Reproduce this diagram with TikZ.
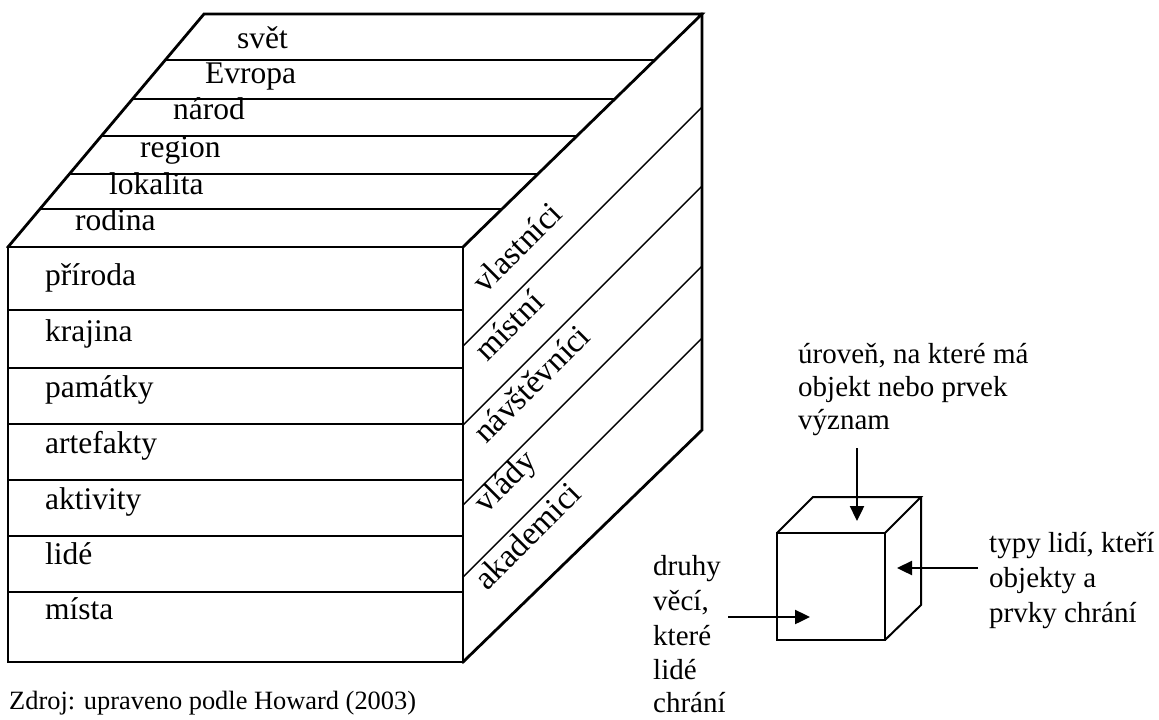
\documentclass[tikz,border=0pt]{standalone}
\usepackage{fontspec}
\setmainfont{Liberation Serif}
\usetikzlibrary{arrows.meta}
\tikzset{
  outer/.style={line width=2.8pt, line join=miter, line cap=rect},
  inner/.style={line width=1.7pt},
  slim/.style={line width=1.4pt},
  biglab/.style={font=\fontsize{31.5}{36}\selectfont, inner sep=0pt, anchor=mid west},
  sidelab/.style={font=\fontsize{33}{38}\selectfont, inner sep=0pt, anchor=base west, rotate=45},
  smalllab/.style={font=\fontsize{29}{34}\selectfont, inner sep=0pt, anchor=mid west},
  notelab/.style={font=\fontsize{26.4}{30}\selectfont, inner sep=0pt, anchor=mid west},
  smallcube/.style={line width=2pt, line join=miter},
  arr/.style={line width=2.4pt, -{Triangle[length=15pt,width=14pt]}},
}
\begin{document}
\begin{tikzpicture}[x=1pt,y=-1pt]
\useasboundingbox (0,0) rectangle (1159,720);
\fill[white] (0,0) rectangle (1159,720);

% ---------- big cube: corners
\coordinate (FTL) at (8,247);
\coordinate (FTR) at (463,247);
\coordinate (FBL) at (8,662);
\coordinate (FBR) at (463,662);
\coordinate (BTL) at (204,14);
\coordinate (BTR) at (702,14);
\coordinate (BBR) at (702,430);

% top face rows
\draw[inner] (165.3,60) -- (654.8,60);
\draw[inner] (132.5,99) -- (614.8,99);
\draw[inner] (101.4,136) -- (576.9,136);
\draw[inner] (69.4,174) -- (537.9,174);
\draw[inner] (40.0,209) -- (502.0,209);

% front face rows
\foreach \yy in {310,368,424,480,536,592}
  \draw[inner] (8,\yy) -- (463,\yy);

% right face strips
\draw[slim] (463,346) -- (702,107);
\draw[slim] (463,425) -- (702,186);
\draw[slim] (463,505) -- (702,266);
\draw[slim] (463,577) -- (702,338);

% outline
\draw[outer] (FTL) rectangle (FBR);
\draw[outer] (FTL) -- (BTL) -- (BTR) -- (FTR);
\draw[outer] (BTR) -- (BBR) -- (FBR);

% top labels
\node[biglab] (svet) at (237,46) {svět};
\node[biglab] (evropa) at (205,81) {Evropa};
\node[biglab] (narod) at (173,117) {národ};
\node[biglab] (region) at (140,155) {region};
\node[biglab] (lokalita) at (109,192) {lokalita};
\node[biglab] (rodina) at (75,228) {rodina};

% front labels
\node[biglab] (priroda) at (45,283) {příroda};
\node[biglab] (krajina) at (45,339) {krajina};
\node[biglab] (pamatky) at (45,395) {památky};
\node[biglab] (artefakty) at (45,451) {artefakty};
\node[biglab] (aktivity) at (45,507) {aktivity};
\node[biglab] (lide) at (45,562) {lidé};
\node[biglab] (mista) at (45,617) {místa};

% right labels
\node[sidelab] (vlastnici) at (485,295) {vlastníci};
\node[sidelab] (mistni) at (487,363) {místní};
\node[sidelab] (navstevnici) at (486,445) {návštěvníci};
\node[sidelab] (vlady) at (486,515) {vlády};
\node[sidelab] (akademici) at (487,592) {akademici};

% source note
\node[notelab] (zdroj) at (9,707) {Zdroj: upraveno podle Howard (2003)};

% ---------- small cube
\coordinate (sFTL) at (777,533);
\coordinate (sFBR) at (885,640);
\coordinate (sFTR) at (885,533);
\coordinate (sBTL) at (813,497);
\coordinate (sBTR) at (921,497);
\coordinate (sBBR) at (921,605);
\draw[smallcube] (sFTL) rectangle (sFBR);
\draw[smallcube] (sFTL) -- (sBTL) -- (sBTR) -- (sFTR);
\draw[smallcube] (sBTR) -- (sBBR) -- (sFBR);

% small cube labels
\node[smalllab] (lvla) at (798,361) {úroveň, na které má};
\node[smalllab] (lvlb) at (798,394) {objekt nebo prvek};
\node[smalllab] (lvlc) at (798,427) {význam};

\node[smalllab] (typa) at (989,550) {typy lidí, kteří};
\node[smalllab] (typb) at (989,585) {objekty a};
\node[smalllab] (typc) at (989,620) {prvky chrání};

\node[smalllab] (druha) at (653,573) {druhy};
\node[smalllab] (druhb) at (653,608) {věcí,};
\node[smalllab] (druhc) at (653,643) {které};
\node[smalllab] (druhd) at (653,677) {lidé};
\node[smalllab] (druhe) at (653,710) {chrání};

% arrows
\coordinate (aTopS) at (857,448);
\coordinate (aTopE) at (857,521);
\coordinate (aRS) at (978,568);
\coordinate (aRE) at (897,568);
\coordinate (aLS) at (728,617);
\coordinate (aLE) at (810,617);
\draw[arr] (aTopS) -- (aTopE);
\draw[arr] (aRS) -- (aRE);
\draw[arr] (aLS) -- (aLE);
\end{tikzpicture}
\end{document}
